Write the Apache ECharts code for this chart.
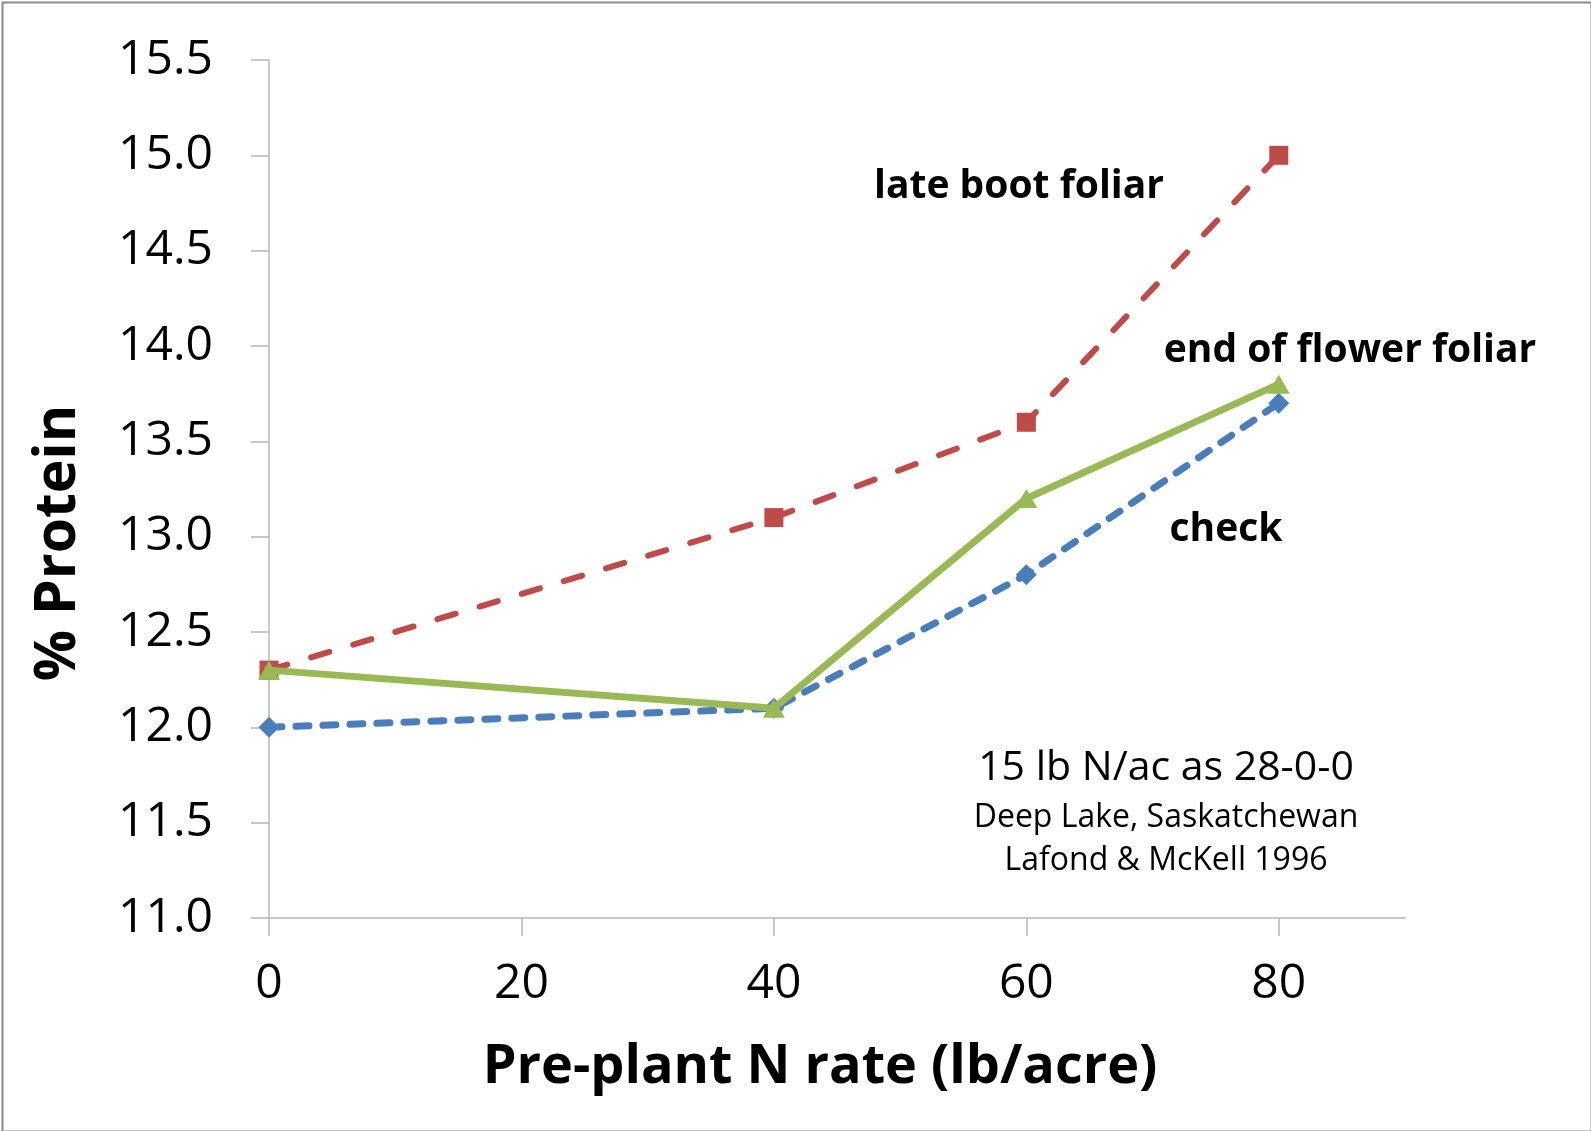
<!DOCTYPE html>
<html>
<head>
<meta charset="utf-8">
<script src="https://cdn.jsdelivr.net/npm/echarts@6/dist/echarts.min.js"></script>
<style>
html,body{margin:0;padding:0;background:#fff;}
#chart{width:1591px;height:1131px;}
</style>
</head>
<body>
<div id="chart"></div>
<script>
const nRates = [0, 40, 60, 80];
const checkVals = [12.0, 12.1, 12.8, 13.7];
const lateBootVals = [12.3, 13.1, 13.6, 15.0];
const endFlowerVals = [12.3, 12.1, 13.2, 13.8];
const xTicks = [0, 20, 40, 60, 80];
const seriesNames = ['check', 'late boot foliar', 'end of flower foliar'];

const pairs = vals => nRates.map((x, i) => [x, vals[i]]);
const FONT = '"Open Sans"';

const chart = echarts.init(document.getElementById('chart'));
chart.setOption({
  animation: false,
  backgroundColor: '#fff',
  grid: {left: 269, top: 60, right: 186, bottom: 213, containLabel: false},
  xAxis: {
    type: 'value', min: 0, max: 90, interval: 20,
    axisLine: {show: true, lineStyle: {color: '#B7B7B7', width: 1.5}},
    axisTick: {show: true, length: 18, inside: false, customValues: xTicks, lineStyle: {color: '#B7B7B7', width: 1.5}},
    axisLabel: {customValues: xTicks, margin: 42, fontFamily: FONT, fontSize: 48, color: '#000'},
    splitLine: {show: false}
  },
  yAxis: {
    type: 'value', min: 11, max: 15.5, interval: 0.5,
    axisLine: {show: true, lineStyle: {color: '#B7B7B7', width: 1.5}},
    axisTick: {show: true, length: 18, lineStyle: {color: '#B7B7B7', width: 1.5}},
    axisLabel: {margin: 56, fontFamily: FONT, fontSize: 48, color: '#000', formatter: v => v.toFixed(1)},
    splitLine: {show: false}
  },
  series: [
    {
      name: seriesNames[0], type: 'line', data: pairs(checkVals), z: 3,
      symbol: 'diamond', symbolSize: [21, 21],
      itemStyle: {color: '#4A7EBB'},
      lineStyle: {color: '#4A7EBB', width: 7, type: [13, 14], cap: 'round'}
    },
    {
      name: seriesNames[1], type: 'line', data: pairs(lateBootVals), z: 2,
      symbol: 'rect', symbolSize: 19,
      itemStyle: {color: '#BE4B48'},
      lineStyle: {color: '#BE4B48', width: 6, type: [19, 25], cap: 'round'}
    },
    {
      name: seriesNames[2], type: 'line', data: pairs(endFlowerVals), z: 4,
      symbol: 'triangle', symbolSize: [22, 19],
      itemStyle: {color: '#98B954'},
      lineStyle: {color: '#98B954', width: 7, type: 'solid'}
    }
  ],
  graphic: [
    {type: 'rect', left: 0, top: 0, shape: {x: 1, y: 1, width: 1589, height: 1129},
     style: {fill: 'none', stroke: '#8A8A8A', lineWidth: 2}, silent: true},
    {type: 'text', x: 820, y: 1068, style: {text: 'Pre-plant N rate (lb/acre)', font: 'bold 54px "Open Sans"', fill: '#000', textAlign: 'center', textVerticalAlign: 'middle'}},
    {type: 'text', x: 59, y: 543, rotation: Math.PI / 2, style: {text: '% Protein', font: 'bold 57px "Open Sans"', fill: '#000', textAlign: 'center', textVerticalAlign: 'middle'}},
    {type: 'text', x: 1019, y: 187, style: {text: seriesNames[1], font: 'bold 39px "Open Sans"', fill: '#000', textAlign: 'center', textVerticalAlign: 'middle'}},
    {type: 'text', x: 1350, y: 351, style: {text: seriesNames[2], font: 'bold 39px "Open Sans"', fill: '#000', textAlign: 'center', textVerticalAlign: 'middle'}},
    {type: 'text', x: 1226, y: 530, style: {text: seriesNames[0], font: 'bold 39px "Open Sans"', fill: '#000', textAlign: 'center', textVerticalAlign: 'middle'}},
    {type: 'text', x: 1166, y: 768, style: {text: '15 lb N/ac as 28-0-0', font: '41px "Open Sans"', fill: '#000', textAlign: 'center', textVerticalAlign: 'middle'}},
    {type: 'text', x: 1166, y: 818, style: {text: 'Deep Lake, Saskatchewan', font: '32px "Open Sans"', fill: '#000', textAlign: 'center', textVerticalAlign: 'middle'}},
    {type: 'text', x: 1166, y: 861, style: {text: 'Lafond & McKell 1996', font: '32px "Open Sans"', fill: '#000', textAlign: 'center', textVerticalAlign: 'middle'}}
  ]
});
</script>
</body>
</html>
